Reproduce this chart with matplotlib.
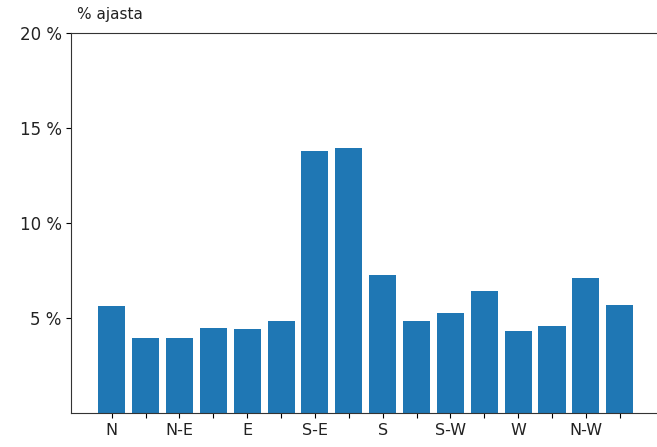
import matplotlib
matplotlib.use("Agg")
import matplotlib.pyplot as plt
from matplotlib.ticker import FuncFormatter

directions = ["N", "N-NE", "N-E", "E-NE", "E", "E-SE", "S-E", "S-SE",
              "S", "S-SW", "S-W", "W-SW", "W", "W-NW", "N-W", "N-NW"]
tick_labels = ["N", "", "N-E", "", "E", "", "S-E", "",
               "S", "", "S-W", "", "W", "", "N-W", ""]
share = [5.63, 3.93, 3.93, 4.49, 4.40, 4.86, 13.81, 13.96,
         7.28, 4.86, 5.25, 6.44, 4.32, 4.58, 7.09, 5.70]

fig = plt.figure(figsize=(6.57, 4.47), dpi=100)
ax = fig.add_axes([0.1087, 0.076, 0.896, 0.85])

x = list(range(len(directions)))
ax.bar(x, share, width=0.8, color="#1f77b4")
ax.set_xticks(x)
ax.set_xticklabels(tick_labels, fontsize=11.5, color="#222222")
ax.set_ylim(0, 20)
ax.set_yticks([5, 10, 15, 20])
ax.yaxis.set_major_formatter(FuncFormatter(lambda v, p: "%d %%" % v))
ax.tick_params(axis="y", labelsize=12, labelcolor="#222222")
for s in ax.spines.values():
    s.set_color("#333333")
ax.text(0.01, 1.03, "% ajasta", transform=ax.transAxes, ha="left",
        va="bottom", fontsize=11, color="#222222")

fig.savefig("out.png")
